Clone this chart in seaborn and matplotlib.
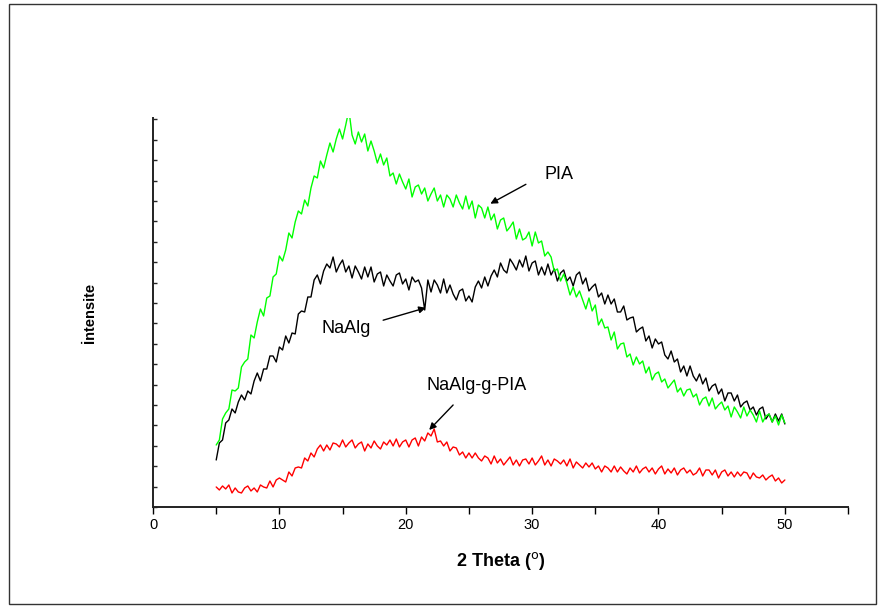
import numpy as np
import pandas as pd
import matplotlib
matplotlib.use('Agg')
import matplotlib.pyplot as plt
from matplotlib.patches import Rectangle
from matplotlib.ticker import MultipleLocator
import seaborn as sns


# 2 theta grid, 0.25 deg steps from 5 to 50
theta = np.linspace(5, 50, 181)

pia = [62, 67, 88, 94, 98, 117, 116, 119, 140, 145, 148, 172,
       169, 185, 198, 191, 209, 211, 230, 233, 251, 246, 257, 274,
       269, 285, 296, 293, 307, 301, 319, 331, 329, 346, 339, 352,
       364, 355, 368, 378, 368, 382, 397, 372, 363, 375, 365, 373,
       356, 366, 356, 344, 353, 342, 349, 331, 334, 323, 333, 325,
       318, 328, 310, 320, 322, 313, 319, 306, 313, 319, 306, 312,
       300, 312, 308, 300, 312, 304, 298, 311, 298, 306, 289, 302,
       299, 289, 300, 287, 293, 278, 287, 289, 276, 280, 285, 268,
       278, 267, 269, 275, 261, 275, 264, 266, 251, 255, 250, 236,
       238, 226, 233, 224, 212, 220, 210, 216, 207, 198, 209, 196,
       202, 182, 188, 179, 180, 167, 175, 158, 163, 164, 150, 153,
       142, 150, 143, 146, 134, 140, 127, 133, 135, 125, 128, 119,
       123, 127, 115, 119, 111, 117, 118, 110, 113, 102, 108, 110,
       101, 109, 98, 102, 105, 97, 101, 90, 100, 95, 89, 100,
       91, 97, 92, 85, 96, 85, 91, 93, 85, 91, 82, 92, 84]

naalg = [47, 64, 67, 84, 87, 98, 94, 105, 112, 107, 116, 113,
         126, 134, 126, 138, 138, 151, 151, 145, 160, 157, 171, 164,
         174, 173, 193, 196, 195, 210, 210, 227, 232, 223, 236, 243,
         239, 250, 235, 242, 247, 235, 241, 229, 241, 235, 228, 240,
         230, 240, 225, 233, 235, 221, 232, 226, 221, 232, 234, 223,
         228, 217, 230, 225, 227, 219, 197, 227, 215, 227, 222, 214,
         228, 214, 222, 213, 207, 216, 218, 206, 211, 205, 220, 226,
         219, 230, 221, 231, 237, 230, 244, 237, 234, 248, 243, 237,
         247, 240, 251, 236, 244, 246, 232, 240, 232, 243, 232, 238,
         226, 234, 237, 226, 230, 221, 232, 235, 223, 229, 216, 220,
         223, 210, 214, 203, 212, 203, 208, 195, 195, 201, 187, 189,
         190, 175, 178, 180, 166, 171, 159, 168, 163, 165, 152, 148,
         156, 145, 148, 135, 141, 131, 141, 131, 126, 133, 123, 129,
         116, 121, 123, 113, 118, 106, 114, 114, 106, 112, 100, 104,
         106, 97, 100, 92, 98, 100, 88, 93, 85, 93, 86, 93, 83]

naalg_g_pia = [20, 17, 21, 18, 22, 14, 19, 15, 14, 19, 21, 16,
               19, 15, 22, 20, 19, 26, 20, 27, 29, 27, 25, 35,
               31, 39, 40, 39, 49, 46, 54, 50, 58, 62, 56, 62,
               57, 64, 63, 60, 67, 60, 64, 67, 59, 63, 65, 56,
               63, 59, 66, 61, 58, 65, 62, 67, 61, 68, 60, 65,
               67, 60, 67, 69, 61, 70, 66, 74, 71, 78, 65, 66,
               61, 65, 56, 60, 59, 52, 55, 49, 54, 49, 54, 49,
               46, 51, 49, 43, 51, 44, 48, 42, 46, 50, 42, 47,
               41, 47, 48, 43, 49, 42, 46, 51, 42, 47, 41, 48,
               46, 43, 47, 41, 48, 39, 45, 42, 39, 44, 40, 44,
               38, 41, 35, 41, 39, 35, 41, 35, 40, 36, 33, 39,
               35, 41, 34, 38, 40, 35, 39, 33, 38, 41, 33, 38,
               34, 39, 32, 37, 39, 34, 37, 32, 34, 39, 31, 37,
               37, 32, 37, 29, 35, 37, 31, 35, 30, 35, 31, 35,
               34, 28, 34, 30, 29, 32, 27, 30, 32, 26, 29, 24, 27]

samples = ['NaAlg', 'PIA', 'NaAlg-g-PIA']
colors = {'NaAlg': 'black', 'PIA': '#00ff00', 'NaAlg-g-PIA': '#ff0000'}

df = pd.concat([
    pd.DataFrame({'theta': theta, 'intensity': naalg, 'sample': 'NaAlg'}),
    pd.DataFrame({'theta': theta, 'intensity': pia, 'sample': 'PIA'}),
    pd.DataFrame({'theta': theta, 'intensity': naalg_g_pia, 'sample': 'NaAlg-g-PIA'}),
])

sns.set_style('ticks')
plt.rcParams['font.family'] = ['Liberation Sans', 'DejaVu Sans']
plt.rcParams['text.color'] = 'black'
plt.rcParams['axes.labelcolor'] = 'black'

fig = plt.figure(figsize=(8.83, 6.12), dpi=100)
ax = fig.add_axes([0.1733, 0.1716, 0.7871, 0.6356])

sns.lineplot(data=df, x='theta', y='intensity', hue='sample', hue_order=samples,
             palette=colors, estimator=None, sort=False, legend=False,
             linewidth=1.0, ax=ax)

ax.set_xlim(0, 55)
ax.set_ylim(0, 389)
ax.xaxis.set_major_locator(MultipleLocator(10))
ax.xaxis.set_minor_locator(MultipleLocator(5))
ax.yaxis.set_major_locator(MultipleLocator(20.4))
ax.tick_params(axis='x', which='both', direction='out', length=5, width=1,
               labelsize=10.5, pad=3, colors='black')
ax.tick_params(axis='y', which='major', direction='in', length=3, width=1,
               labelleft=False)
for side in ['top', 'right']:
    ax.spines[side].set_visible(False)
for side in ['left', 'bottom']:
    ax.spines[side].set_linewidth(1.4)
    ax.spines[side].set_color('#222222')

ax.set_xlabel(r'2 Theta ($^{\mathrm{o}}$)', fontsize=13, fontweight='bold', labelpad=13)
ax.set_ylabel('İntensite', fontsize=10.5, fontweight='bold', labelpad=40)

# labels with arrows
ax.text(32.1, 332, 'PIA', fontsize=13, ha='center', va='center')
ax.annotate('', xy=(26.5, 302), xytext=(29.7, 324),
            arrowprops=dict(arrowstyle='-|>', color='black', lw=1, mutation_scale=10))
ax.text(15.3, 178, 'NaAlg', fontsize=13, ha='center', va='center')
ax.annotate('', xy=(21.8, 200), xytext=(18.0, 186),
            arrowprops=dict(arrowstyle='-|>', color='black', lw=1, mutation_scale=10))
ax.text(25.6, 121, 'NaAlg-g-PIA', fontsize=13, ha='center', va='center')
ax.annotate('', xy=(21.7, 75), xytext=(23.9, 104),
            arrowprops=dict(arrowstyle='-|>', color='black', lw=1, mutation_scale=10))

# outer frame around the whole picture
fig.patches.append(Rectangle((9 / 883, 8 / 612), 867 / 883, 600 / 612,
                             transform=fig.transFigure, fill=False,
                             edgecolor='#333333', linewidth=1))

fig.savefig('out.png', dpi=100)
